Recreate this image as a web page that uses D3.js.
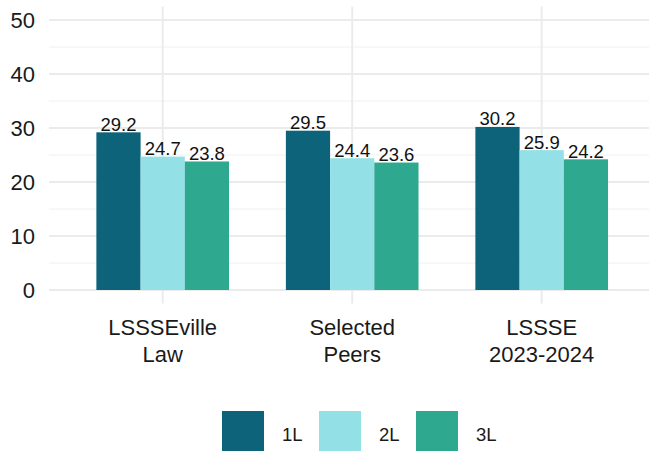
<!DOCTYPE html>
<html>
<head>
<meta charset="utf-8">
<script src="https://cdn.jsdelivr.net/npm/d3@7"></script>
<style>
  body { margin: 0; background: #fff; }
  svg { display: block; font-family: "Liberation Sans", Arial, sans-serif; }
</style>
</head>
<body>
<svg id="chart" width="649" height="451"></svg>
<script>
// chart data
var groups = ["LSSSEville Law", "Selected Peers", "LSSSE 2023-2024"];
var groupLines = [["LSSSEville", "Law"], ["Selected", "Peers"], ["LSSSE", "2023-2024"]];
var years = ["1L", "2L", "3L"];
var colors = ["#0c637a", "#93e1e6", "#2ea990"];
var values1L = [29.2, 29.5, 30.2];
var values2L = [24.7, 24.4, 25.9];
var values3L = [23.8, 23.6, 24.2];
var yTicks = [0, 10, 20, 30, 40, 50];
var yMinor = [5, 15, 25, 35, 45];

var series = [values1L, values2L, values3L];

var svg = d3.select("#chart");

// panel
var panelLeft = 49, panelTop = 6.5, panelBottom = 303.5;

var y = d3.scaleLinear().domain([-2.5, 52.5]).range([panelBottom, panelTop]);
var x = d3.scalePoint().domain(groups).range([panelLeft, 655.4]).padding(0.6);
var inner = d3.scaleBand().domain(years)
  .range([-x.step() * 0.35, x.step() * 0.35]);
var color = d3.scaleOrdinal().domain(years).range(colors);

// grid lines
var grid = svg.append("g");
grid.selectAll("line.minor").data(yMinor).enter().append("line")
  .attr("class", "minor")
  .attr("x1", panelLeft).attr("x2", 649)
  .attr("y1", function (d) { return y(d); })
  .attr("y2", function (d) { return y(d); })
  .attr("stroke", "#f0f0f0").attr("stroke-width", 1);
grid.selectAll("line.major").data(yTicks).enter().append("line")
  .attr("class", "major")
  .attr("x1", panelLeft).attr("x2", 649)
  .attr("y1", function (d) { return y(d); })
  .attr("y2", function (d) { return y(d); })
  .attr("stroke", "#ebebeb").attr("stroke-width", 2);
grid.selectAll("line.vert").data(groups).enter().append("line")
  .attr("class", "vert")
  .attr("x1", function (d) { return x(d); })
  .attr("x2", function (d) { return x(d); })
  .attr("y1", panelTop).attr("y2", panelBottom)
  .attr("stroke", "#ebebeb").attr("stroke-width", 2);

// y axis labels
svg.append("g").selectAll("text").data(yTicks).enter().append("text")
  .attr("x", 35)
  .attr("y", function (d) { return y(d); })
  .attr("dy", "0.36em")
  .attr("text-anchor", "end")
  .attr("font-size", 22)
  .attr("fill", "#1a1a1a")
  .text(function (d) { return d; });

// bars
var rows = [];
groups.forEach(function (g, i) {
  years.forEach(function (yr, j) {
    rows.push({group: g, year: yr, value: series[j][i]});
  });
});

var bars = svg.append("g");
bars.selectAll("rect").data(rows).enter().append("rect")
  .attr("x", function (d) { return x(d.group) + inner(d.year); })
  .attr("width", inner.bandwidth())
  .attr("y", function (d) { return y(d.value); })
  .attr("height", function (d) { return y(0) - y(d.value); })
  .attr("fill", function (d) { return color(d.year); });

bars.selectAll("text").data(rows).enter().append("text")
  .attr("x", function (d) { return x(d.group) + inner(d.year) + inner.bandwidth() / 2; })
  .attr("y", function (d) { return y(d.value) - 1.5; })
  .attr("text-anchor", "middle")
  .attr("font-size", 18.5)
  .attr("fill", "#111")
  .text(function (d) { return d.value.toFixed(1); });

// x axis labels
var xl = svg.append("g").selectAll("text").data(groups).enter().append("text")
  .attr("text-anchor", "middle")
  .attr("font-size", 22)
  .attr("fill", "#1a1a1a");
xl.each(function (g, i) {
  var t = d3.select(this);
  groupLines[i].forEach(function (line, k) {
    t.append("tspan")
      .attr("x", x(g))
      .attr("y", 335 + k * 26.5)
      .text(line);
  });
});

// legend
var legend = svg.append("g").selectAll("g").data(years).enter().append("g")
  .attr("transform", function (d, i) { return "translate(" + (222 + i * 97) + ",411)"; });
legend.append("rect")
  .attr("width", 42).attr("height", 42)
  .attr("fill", function (d) { return color(d); });
legend.append("text")
  .attr("x", 60).attr("y", 30)
  .attr("font-size", 18.5)
  .attr("fill", "#1a1a1a")
  .text(function (d) { return d; });
</script>
</body>
</html>
